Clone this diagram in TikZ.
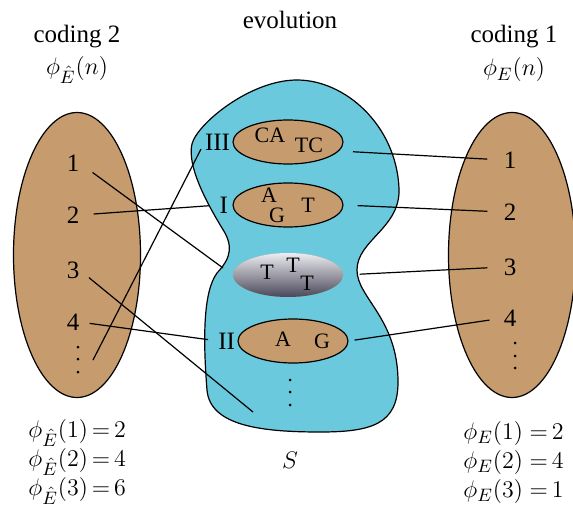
\documentclass[tikz,border=0pt]{standalone}
\usepackage{fontspec}
\setmainfont{Liberation Serif}
\usetikzlibrary{positioning,shapes.geometric}

\definecolor{blobblue}{RGB}{106,201,221}
\definecolor{setbrown}{RGB}{198,156,110}
\definecolor{grayhi}{RGB}{236,236,242}
\definecolor{graymid}{RGB}{160,158,174}
\definecolor{graylo}{RGB}{74,72,88}

\tikzset{
  bigset/.style={ellipse, draw, line width=0.6pt, fill=setbrown, minimum width=63.5pt, minimum height=142.5pt},
  smallset/.style={ellipse, draw, line width=0.6pt, fill=setbrown, minimum width=55pt, minimum height=22pt, inner sep=0pt},
  link/.style={line width=0.6pt},
  lbl/.style={inner sep=0pt},
  nuc/.style={inner sep=0pt, font=\fontsize{11}{13}\selectfont},
  digit/.style={inner sep=0pt},
}

\begin{document}
\begin{tikzpicture}[x=0.5pt, y=-0.5pt, every node/.style={font=\fontsize{12.5}{15}\selectfont}]
\useasboundingbox (0,0) rectangle (573,508);

% headings
\node (evo) at (290,20) {evolution};
\node (codeL) at (77,37) {coding 2};
\node (phiL) at (77,70) {$\phi_{\hat{E}}(n)$};
\node (codeR) at (514,37) {coding 1};
\node (phiR) at (514,70) {$\phi_{E}(n)$};

% the two codings
\node[bigset] (setL) at (77,255) {};
\node[bigset] (setR) at (512,255) {};

% S
\draw[link, fill=blobblue] (297,80)
  .. controls (345,80) and (396,125) .. (399,188)
  .. controls (401,228) and (357,240) .. (357,270)
  .. controls (357,298) and (398,318) .. (398,382)
  .. controls (398,424) and (372,432) .. (320,432)
  .. controls (262,432) and (210,426) .. (207,390)
  .. controls (203,340) and (203,292) .. (217,273)
  .. controls (232,257) and (233,245) .. (222,228)
  .. controls (205,200) and (187,165) .. (192,144)
  .. controls (197,124) and (250,80) .. (297,80) -- cycle;

\node[smallset] (eIII) at (288,142) {};
\node[smallset] (eI) at (288,205) {};
\node[smallset, draw=none, top color=grayhi, middle color=graymid, bottom color=graylo] (eT) at (288,275) {};
\node[smallset] (eII) at (293,341) {};

\node[lbl, left=1pt of eIII] (nIII) {III};
\node[lbl, left=2pt of eI] (nI) {I};
\node[lbl, left=1pt of eII] (nII) {II};

\node[nuc] (bCA) at (270,135) {CA};
\node[nuc] (bTC) at (309,145) {TC};
\node[nuc] (bA1) at (269,195) {A};
\node[nuc] (bG1) at (277,215) {G};
\node[nuc] (bT1) at (308,205) {T};
\node[nuc] (bT2) at (267,272) {T};
\node[nuc] (bT3) at (293,265) {T};
\node[nuc] (bT4) at (307,283) {T};
\node[nuc] (bA2) at (283,339) {A};
\node[nuc] (bG2) at (322,341) {G};

\foreach \y in {380,392,405} \fill (290,\y) circle (0.75pt);
\node (S) at (290,460) {$S$};

% numbers
\foreach [count=\i] \y in {163,215,270,322} \node[digit] (l\i) at (73,\y) {\i};
\foreach [count=\i] \y in {160,212,267,318} \node[digit] (r\i) at (510,\y) {\i};
\foreach \y in {347,359,372} \fill (78,\y) circle (0.75pt);
\foreach \y in {343,356,368} \fill (515,\y) circle (0.75pt);

\coordinate (ldots) at (93,360);
\coordinate (c1) at (223,268);
\coordinate (c3) at (253,412);

% coding 2
\draw[link, shorten <=8pt] (l1.east) -- (c1);
\draw[link, shorten <=7pt, shorten >=5pt] (l2.east) -- (nI.west);
\draw[link, shorten <=6pt] (l3.east) -- (c3);
\draw[link, shorten <=5pt, shorten >=5pt] (l4.east) -- (nII.west);
\draw[link, shorten >=4pt] (ldots) -- (nIII.west);

% coding 1
\draw[link, shorten <=7pt, shorten >=8pt] (eIII.-10) -- (r1.west);
\draw[link, shorten <=7pt, shorten >=8pt] (eI.east) -- (r2.west);
\draw[link, shorten <=8pt, shorten >=8pt] (eT.east) -- (r3.west);
\draw[link, shorten <=3pt, shorten >=7pt] (eII.east) -- (r4.west);

% tables
\foreach [count=\i] \v in {2,4,6}
  \node[anchor=west, inner sep=0pt] (eqL\i) at (28,404+29*\i) {$\phi_{\hat{E}}(\i)\,{=}\,\v$};
\foreach [count=\i] \v in {2,4,1}
  \node[anchor=west, inner sep=0pt] (eqR\i) at (463,404+29*\i) {$\phi_{E}(\i)\;{=}\,\v$};
\end{tikzpicture}
\end{document}
